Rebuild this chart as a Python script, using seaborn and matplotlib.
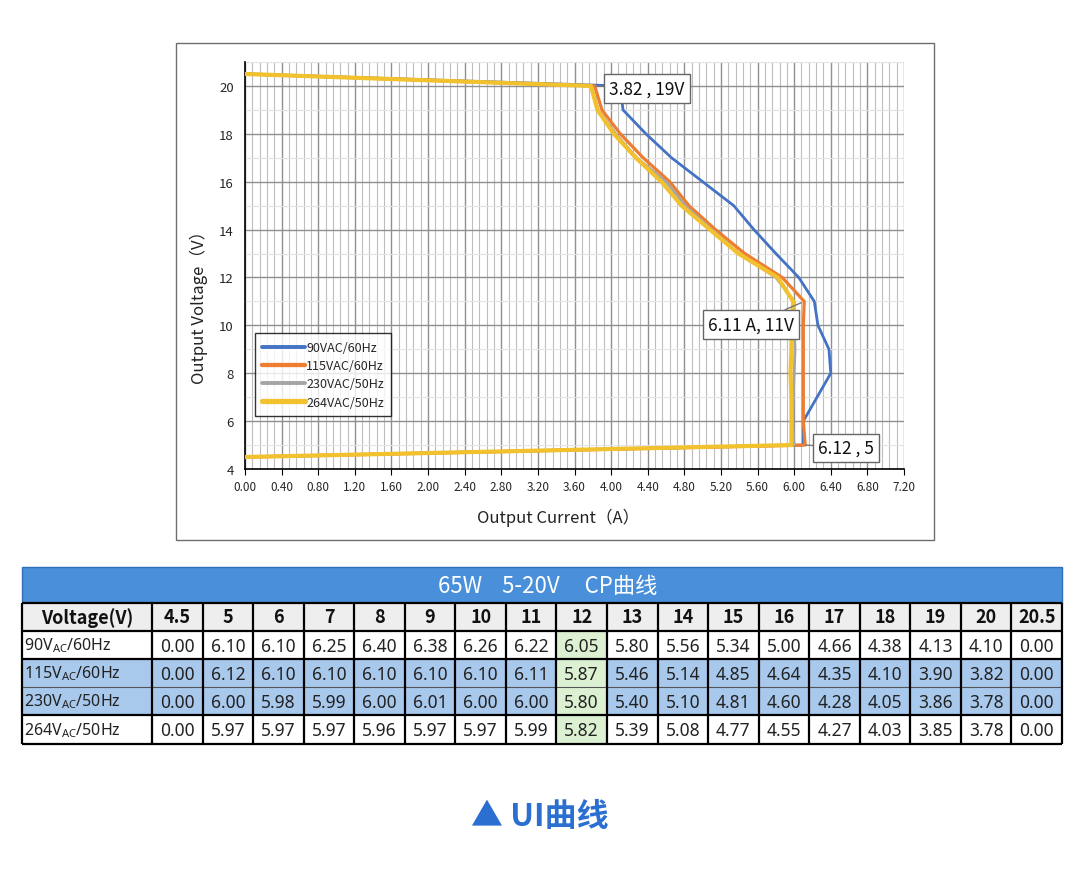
import numpy as np
import pandas as pd
import matplotlib
matplotlib.use("Agg")
import matplotlib.pyplot as plt
import seaborn as sns
from matplotlib.patches import Rectangle
from matplotlib.ticker import MultipleLocator, FormatStrFormatter

# ---------------- data ----------------
voltage_levels = [4.5, 5, 6, 7, 8, 9, 10, 11, 12, 13, 14, 15, 16, 17, 18, 19, 20, 20.5]
voltage_labels = ["4.5", "5", "6", "7", "8", "9", "10", "11", "12", "13", "14",
                  "15", "16", "17", "18", "19", "20", "20.5"]
series_names = ["90VAC/60Hz", "115VAC/60Hz", "230VAC/50Hz", "264VAC/50Hz"]
row_labels = [r"90V$_{\mathregular{AC}}$/60Hz", r"115V$_{\mathregular{AC}}$/60Hz",
              r"230V$_{\mathregular{AC}}$/50Hz", r"264V$_{\mathregular{AC}}$/50Hz"]
i_90 = [0.00, 6.10, 6.10, 6.25, 6.40, 6.38, 6.26, 6.22, 6.05, 5.80, 5.56, 5.34, 5.00, 4.66, 4.38, 4.13, 4.10, 0.00]
i_115 = [0.00, 6.12, 6.10, 6.10, 6.10, 6.10, 6.10, 6.11, 5.87, 5.46, 5.14, 4.85, 4.64, 4.35, 4.10, 3.90, 3.82, 0.00]
i_230 = [0.00, 6.00, 5.98, 5.99, 6.00, 6.01, 6.00, 6.00, 5.80, 5.40, 5.10, 4.81, 4.60, 4.28, 4.05, 3.86, 3.78, 0.00]
i_264 = [0.00, 5.97, 5.97, 5.97, 5.96, 5.97, 5.97, 5.99, 5.82, 5.39, 5.08, 4.77, 4.55, 4.27, 4.03, 3.85, 3.78, 0.00]
currents = [i_90, i_115, i_230, i_264]

annotations = [("3.82 , 19V", (3.86, 20.0), (4.39, 19.9)),
               ("6.11 A, 11V", (6.08, 10.95), (5.53, 10.04)),
               ("6.12 , 5", (6.13, 5.0), (6.57, 4.88))]

table_title = "65W    5-20V     CP曲线"
caption = "▲ UI曲线"

# ---------------- style ----------------
sns.set_theme(style="white")
plt.rcParams["font.family"] = ["Noto Sans CJK SC", "DejaVu Sans"]
plt.rcParams["mathtext.fontset"] = "custom"
plt.rcParams["mathtext.rm"] = "Noto Sans"
plt.rcParams["mathtext.it"] = "Noto Sans:italic"
plt.rcParams["mathtext.bf"] = "Noto Sans:bold"

colors = ["#4472C4", "#ED7D31", "#A5A5A5", "#F2C12E"]
widths = [2.0, 2.3, 2.0, 3.0]

W, H = 1080, 878
fig = plt.figure(figsize=(W / 100, H / 100), dpi=100)
fig.patch.set_facecolor("white")

# chart axes (pixel layout converted to fractions)
x0, x1, ytop, ybot = 245, 904, 63, 470
ax = fig.add_axes([x0 / W, 1 - ybot / H, (x1 - x0) / W, (ybot - ytop) / H])

df = pd.DataFrame({
    "current": np.concatenate(currents),
    "voltage": np.tile(voltage_levels, len(series_names)),
    "series": np.repeat(series_names, len(voltage_levels)),
})
for k, name in enumerate(series_names):
    sub = df[df["series"] == name]
    sns.lineplot(data=sub, x="current", y="voltage", sort=False, estimator=None,
                 color=colors[k], linewidth=widths[k], ax=ax, label=name,
                 zorder=3 + k)

ax.set_xlim(0, 7.2)
ax.set_ylim(4, 21)
ax.xaxis.set_major_locator(MultipleLocator(0.4))
ax.xaxis.set_minor_locator(MultipleLocator(0.08))
ax.yaxis.set_major_locator(MultipleLocator(2))
ax.yaxis.set_minor_locator(MultipleLocator(1))
ax.xaxis.set_major_formatter(FormatStrFormatter("%.2f"))
ax.set_yticks([4, 6, 8, 10, 12, 14, 16, 18, 20])
ax.grid(which="major", axis="both", color="#8F8F8F", linewidth=1.0, zorder=0)
ax.grid(which="minor", axis="x", color="#BDBDBD", linewidth=0.8, zorder=0)
ax.grid(which="minor", axis="y", color="#E3E3E3", linewidth=0.8, zorder=0)
ax.set_axisbelow(True)
for s in ["top", "right"]:
    ax.spines[s].set_visible(False)
for s in ["left", "bottom"]:
    ax.spines[s].set_color("black")
    ax.spines[s].set_linewidth(1.2)
ax.tick_params(axis="x", which="major", length=4, width=0.8, color="black",
               labelsize=8.5, pad=4, direction="out", bottom=True)
ax.tick_params(axis="x", which="minor", length=0)
ax.tick_params(axis="y", which="both", length=0, labelsize=9.5, pad=8)
ax.set_xlabel("Output Current（A）", fontsize=12, color="#222222")
ax.set_ylabel("Output Voltage（V）", fontsize=12, color="#222222")
ax.xaxis.set_label_coords(0.475, -0.095)
ax.yaxis.set_label_coords(-0.056, 0.41)

leg = ax.legend(loc="upper left", bbox_to_anchor=(0.015, 0.333), fontsize=9,
                frameon=True, fancybox=False, edgecolor="black", handlelength=3.4,
                handletextpad=0.1, borderpad=0.6, labelspacing=0.42,
                borderaxespad=0)
leg.get_frame().set_linewidth(1.0)
for lh, lw in zip(leg.get_lines(), widths):
    lh.set_linewidth(lw + 0.8)
leg.set_zorder(10)

for text, xy, xyt in annotations:
    ax.annotate(text, xy=xy, xytext=xyt, ha="center", va="center", fontsize=12.5,
                color="#111111", zorder=12,
                bbox=dict(boxstyle="square,pad=0.3", fc="white", ec="#666666", lw=1.0),
                arrowprops=dict(arrowstyle="-", color="#777777", lw=1.0,
                                shrinkA=0, shrinkB=0))

# ---------------- overlay in pixel coordinates ----------------
ov = fig.add_axes([0, 0, 1, 1], zorder=-1)
ov.set_xlim(0, W)
ov.set_ylim(H, 0)
ov.axis("off")
ov.add_patch(Rectangle((176, 44), 934 - 176, 541 - 44, fill=False, ec="#6E6E6E", lw=1.0))

ov2 = fig.add_axes([0, 0, 1, 1], zorder=5)
ov2.set_xlim(0, W)
ov2.set_ylim(H, 0)
ov2.axis("off")
ov2.patch.set_alpha(0)

tl, tr = 22, 1062
first_w = 130
col_w = (tr - tl - first_w) / len(voltage_levels)
col_edges = [tl, tl + first_w] + [tl + first_w + col_w * (j + 1) for j in range(len(voltage_levels))]
row_edges = [568, 604, 632, 660, 688, 716, 745]

# title bar
ov2.add_patch(Rectangle((tl, row_edges[0]), tr - tl, row_edges[1] - row_edges[0],
                        fc="#4A8FDA", ec="#2F6FB8", lw=1.0))
ov2.text(548, (row_edges[0] + row_edges[1]) / 2 + 1, table_title, ha="center", va="center",
         fontsize=16, color="white")

# header row
ov2.add_patch(Rectangle((tl, row_edges[1]), tr - tl, row_edges[2] - row_edges[1],
                        fc="#EEEEEE", ec="none"))
row_fills = ["white", "#A8C8EC", "#A8C8EC", "white"]
j12 = voltage_labels.index("12")
for r in range(4):
    ov2.add_patch(Rectangle((tl, row_edges[r + 2]), tr - tl, row_edges[r + 3] - row_edges[r + 2],
                            fc=row_fills[r], ec="none"))
    ov2.add_patch(Rectangle((col_edges[j12 + 1], row_edges[r + 2]), col_w,
                            row_edges[r + 3] - row_edges[r + 2], fc="#DCF1D2", ec="none"))

# texts
hy = (row_edges[1] + row_edges[2]) / 2
ov2.text((col_edges[0] + col_edges[1]) / 2, hy, "Voltage(V)", ha="center", va="center",
         fontsize=13, fontweight="bold", color="#111111")
for j, lab in enumerate(voltage_labels):
    ov2.text((col_edges[j + 1] + col_edges[j + 2]) / 2, hy, lab, ha="center", va="center",
             fontsize=13, fontweight="bold", color="#111111")
for r in range(4):
    cy = (row_edges[r + 2] + row_edges[r + 3]) / 2
    ov2.text(col_edges[0] + 2, cy, row_labels[r], ha="left", va="center",
             fontsize=11.5, color="#222222", family="Noto Sans")
    for j, v in enumerate(currents[r]):
        ov2.text((col_edges[j + 1] + col_edges[j + 2]) / 2, cy + 1, f"{v:.2f}",
                 ha="center", va="center", fontsize=12.5, color="#222222", family="Noto Sans")

# grid lines of table
for y in row_edges[1:]:
    lw = 0.8 if y == 688 else 1.6
    col = "#555555" if y == 688 else "black"
    ov2.plot([tl, tr], [y, y], color=col, lw=lw, solid_capstyle="butt")
for x in col_edges:
    ov2.plot([x, x], [row_edges[1], row_edges[-1]], color="black", lw=1.6, solid_capstyle="butt")

# caption
ov2.text(540, 817, caption, ha="center", va="center", fontsize=23, fontweight="bold",
         color="#2B6FD1")

fig.savefig("out.png", dpi=100, facecolor="white")
